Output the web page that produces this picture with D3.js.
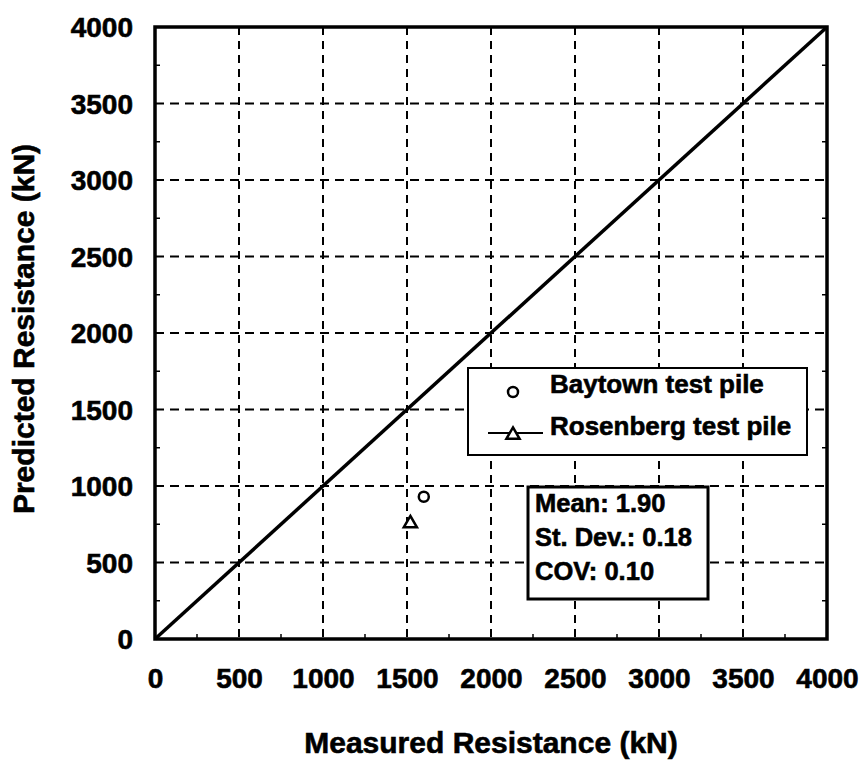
<!DOCTYPE html>
<html>
<head>
<meta charset="utf-8">
<script src="https://cdn.jsdelivr.net/npm/d3@7"></script>
<style>
html,body{margin:0;padding:0;background:#fff;}
svg{display:block;}
text{font-family:"Liberation Sans",Arial,Helvetica,sans-serif;font-weight:bold;fill:#000;}
</style>
</head>
<body>
<svg id="chart" width="867" height="762"></svg>
<script>
// ---- data ----
const tickValues = [0, 500, 1000, 1500, 2000, 2500, 3000, 3500, 4000];
const minorTickValues = [250, 750, 1250, 1750, 2250, 2750, 3250, 3750];
const baytown = [{ measured: 1600, predicted: 930 }];
const rosenberg = [{ measured: 1520, predicted: 755 }];
const oneToOne = [{ measured: 0, predicted: 0 }, { measured: 4000, predicted: 4000 }];
const legendLabels = ["Baytown test pile", "Rosenberg test pile"];
const statsLines = ["Mean: 1.90", "St. Dev.: 0.18", "COV: 0.10"];
const xTitle = "Measured Resistance (kN)";
const yTitle = "Predicted Resistance (kN)";

// ---- layout ----
const svg = d3.select("#chart");
const L = 155, R = 827, T = 27, B = 639;
const x = d3.scaleLinear().domain([0, 4000]).range([L, R]);
const y = d3.scaleLinear().domain([0, 4000]).range([B, T]);

// grid
const grid = svg.append("g");
grid.selectAll("line.vg").data(tickValues.slice(1, -1)).enter().append("line")
  .attr("x1", d => x(d)).attr("x2", d => x(d)).attr("y1", T).attr("y2", B)
  .attr("stroke", "#000").attr("stroke-width", 2).attr("stroke-dasharray", "8,6");
grid.selectAll("line.hg").data(tickValues.slice(1, -1)).enter().append("line")
  .attr("y1", d => y(d)).attr("y2", d => y(d)).attr("x1", L).attr("x2", R)
  .attr("stroke", "#000").attr("stroke-width", 2).attr("stroke-dasharray", "9,6");

// minor ticks (inward)
const mt = svg.append("g").attr("stroke", "#000").attr("stroke-width", 1.5);
minorTickValues.forEach(v => {
  mt.append("line").attr("x1", x(v)).attr("x2", x(v)).attr("y1", B).attr("y2", B - 5);
  mt.append("line").attr("x1", L).attr("x2", L + 5).attr("y1", y(v)).attr("y2", y(v));
  mt.append("line").attr("x1", R).attr("x2", R - 5).attr("y1", y(v)).attr("y2", y(v));
});

// frame
svg.append("rect").attr("x", L).attr("y", T).attr("width", R - L).attr("height", B - T)
  .attr("fill", "none").attr("stroke", "#000").attr("stroke-width", 3.5);

// axes labels via d3 axes
const xAxis = d3.axisBottom(x).tickValues(tickValues).tickSize(0).tickPadding(0).tickFormat(d3.format("d"));
const gx = svg.append("g").attr("transform", `translate(0,${B})`).call(xAxis);
gx.select(".domain").remove();
gx.selectAll("text").attr("dy", null).attr("y", 49)
  .style("font-size", "28px").style("font-family", "'Liberation Sans',Arial,sans-serif")
  .style("font-weight", "bold").attr("fill", "#000").attr("stroke", "#000").attr("stroke-width", 0.6);

const yAxis = d3.axisLeft(y).tickValues(tickValues).tickSize(0).tickPadding(0).tickFormat(d3.format("d"));
const gy = svg.append("g").attr("transform", `translate(${L},0)`).call(yAxis);
gy.select(".domain").remove();
gy.selectAll("text").attr("x", -22).attr("dy", "0.35em")
  .style("font-size", "28px").style("font-family", "'Liberation Sans',Arial,sans-serif")
  .style("font-weight", "bold").attr("fill", "#000").attr("stroke", "#000").attr("stroke-width", 0.6);

// 1:1 line
svg.append("path").datum(oneToOne)
  .attr("d", d3.line().x(d => x(d.measured)).y(d => y(d.predicted)))
  .attr("stroke", "#000").attr("stroke-width", 3.5).attr("fill", "none");

// data points
svg.selectAll("circle.bay").data(baytown).enter().append("circle")
  .attr("cx", d => x(d.measured)).attr("cy", d => y(d.predicted)).attr("r", 5)
  .attr("fill", "#fff").attr("stroke", "#000").attr("stroke-width", 2.5);
const tri = d3.symbol().type(d3.symbolTriangle).size(75);
svg.selectAll("path.ros").data(rosenberg).enter().append("path")
  .attr("d", tri).attr("transform", d => `translate(${x(d.measured)},${y(d.predicted)})`)
  .attr("fill", "#fff").attr("stroke", "#000").attr("stroke-width", 2.5);

// legend
const lg = svg.append("g");
lg.append("rect").attr("x", 468).attr("y", 368).attr("width", 339).attr("height", 87)
  .attr("fill", "#fff").attr("stroke", "#000").attr("stroke-width", 2);
lg.append("circle").attr("cx", 513).attr("cy", 392).attr("r", 5)
  .attr("fill", "#fff").attr("stroke", "#000").attr("stroke-width", 2.5);
lg.append("line").attr("x1", 488).attr("x2", 543).attr("y1", 433).attr("y2", 433)
  .attr("stroke", "#000").attr("stroke-width", 1.8);
lg.append("path").attr("d", tri).attr("transform", "translate(513,435)")
  .attr("fill", "#fff").attr("stroke", "#000").attr("stroke-width", 2.5);
lg.selectAll("text").data(legendLabels).enter().append("text")
  .attr("x", 550).attr("y", (d, i) => 393 + i * 42)
  .style("font-size", "26px").attr("stroke", "#000").attr("stroke-width", 0.6)
  .text(d => d);

// stats box
const sg = svg.append("g");
sg.append("rect").attr("x", 528).attr("y", 487).attr("width", 180).attr("height", 112)
  .attr("fill", "#fff").attr("stroke", "#000").attr("stroke-width", 3);
sg.selectAll("text").data(statsLines).enter().append("text")
  .attr("x", 535).attr("y", (d, i) => 512 + i * 34)
  .style("font-size", "25.5px").attr("stroke", "#000").attr("stroke-width", 0.6)
  .text(d => d);

// axis titles
svg.append("text").attr("x", (L + R) / 2).attr("y", 753).attr("text-anchor", "middle")
  .style("font-size", "30px").attr("stroke", "#000").attr("stroke-width", 0.6).text(xTitle);
svg.append("text").attr("transform", `translate(34,329) rotate(-90)`)
  .attr("text-anchor", "middle")
  .style("font-size", "30px").attr("stroke", "#000").attr("stroke-width", 0.6).text(yTitle);
</script>
</body>
</html>
